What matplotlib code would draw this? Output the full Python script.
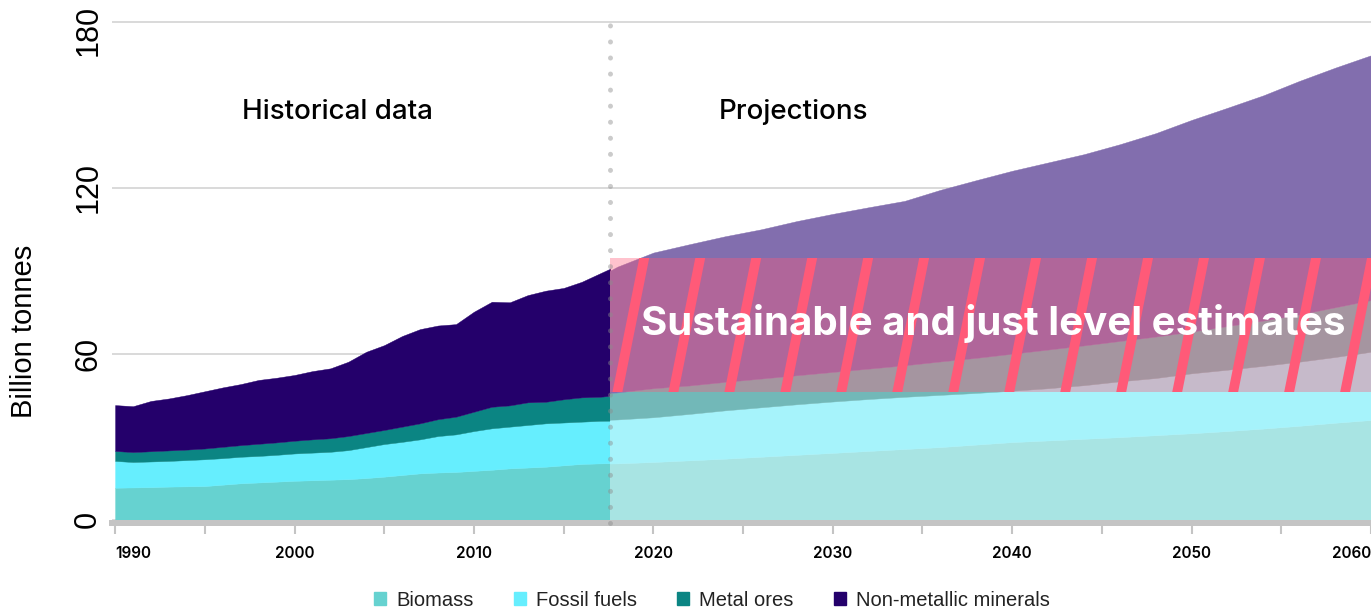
import numpy as np
import matplotlib.pyplot as plt
import matplotlib.transforms as mtransforms
from matplotlib.patches import Rectangle, Patch

# Global material extraction, billion tonnes
hist_years = np.arange(1990, 2019)
hist_biomass = [11.5, 11.6, 11.7, 11.9, 12.0, 12.1, 12.6, 13.1, 13.4, 13.7,
                14.0, 14.2, 14.4, 14.6, 15.0, 15.5, 16.1, 16.7, 17.0, 17.2,
                17.6, 18.0, 18.5, 18.8, 19.1, 19.6, 20.1, 20.3, 20.4]
hist_fossil = [9.7, 9.2, 9.3, 9.3, 9.5, 9.7, 9.6, 9.6, 9.6, 9.7,
               9.9, 10.0, 10.1, 10.5, 11.2, 11.8, 12.0, 12.3, 13.2, 13.6,
               14.4, 15.0, 15.1, 15.4, 15.7, 15.5, 15.3, 15.4, 15.4]
hist_metal = [3.6, 3.6, 3.7, 3.8, 3.8, 3.9, 4.1, 4.2, 4.4, 4.5,
              4.6, 4.8, 4.9, 5.1, 5.1, 5.1, 5.5, 5.8, 6.1, 6.4,
              7.0, 7.8, 7.7, 8.2, 7.8, 8.4, 8.8, 8.7, 9.2]
hist_nonmetal = [16.6, 16.6, 18.2, 18.8, 19.7, 20.7, 21.5, 22.1, 23.1, 23.4,
                 23.8, 24.7, 25.3, 26.9, 29.4, 30.7, 32.8, 34.1, 33.9, 33.5,
                 36.2, 38.0, 37.3, 38.8, 40.2, 40.3, 41.8, 44.6, 47.0]

proj_years = [2017, 2018, 2020, 2022, 2024, 2026, 2028, 2030, 2032, 2034, 2036,
              2038, 2040, 2042, 2044, 2046, 2048, 2050, 2052, 2054, 2056, 2058, 2060]
proj_biomass = [20.2, 20.3, 20.8, 21.4, 22.0, 22.7, 23.4, 24.1, 24.8, 25.5, 26.2,
                27.1, 28.0, 28.6, 29.2, 29.8, 30.5, 31.2, 32.0, 32.9, 33.9, 35.0, 36.0]
proj_fossil = [15.8, 15.9, 16.2, 16.8, 17.5, 17.9, 18.3, 18.6, 18.8, 18.9, 18.9,
               18.7, 18.6, 18.9, 19.4, 20.2, 20.7, 21.7, 22.2, 22.7, 23.2, 23.8, 24.7]
proj_metal = [9.5, 9.8, 10.5, 10.3, 10.3, 10.4, 10.5, 10.7, 11.0, 11.4, 12.1,
              12.7, 13.4, 14.0, 14.4, 14.6, 15.0, 15.1, 15.8, 16.4, 17.1, 18.0, 18.7]
proj_nonmetal = [42.5, 45.5, 49.1, 51.1, 52.7, 54.0, 55.8, 57.2, 58.4, 59.5, 62.1,
                 64.3, 66.2, 67.7, 69.2, 71.2, 73.6, 76.6, 79.0, 81.5, 84.5, 86.7, 88.6]

labels = ['Biomass', 'Fossil fuels', 'Metal ores', 'Non-metallic minerals']
hist_colors = ['#66d2d0', '#66eefe', '#0b8583', '#24006b']
proj_colors = ['#a8e4e3', '#a6f3fb', '#72b8b8', '#826eae']

split_year = 2017.6          # end of historical data
band_low, band_high = 46.2, 94.5   # sustainable and just level range
pink = '#ff5a78'

fig = plt.figure(figsize=(13.71, 6.11), dpi=100)
ax = fig.add_axes([111.5 / 1371, 91.5 / 611, 1 - 111.5 / 1371, 519.5 / 611])
ax.set_xlim(1989.8, 2060)
ax.set_ylim(0, 188)

# historical stack, clipped at the split
hist = ax.stackplot(hist_years, hist_biomass, hist_fossil, hist_metal, hist_nonmetal,
                    colors=hist_colors, zorder=2)
clip_h = Rectangle((1980, -10), split_year - 1980, 300, transform=ax.transData)
for p, c in zip(hist, hist_colors):
    p.set_edgecolor(c)
    p.set_linewidth(0.3)
    p.set_clip_path(clip_h)

# projections, faded
proj = ax.stackplot(proj_years, proj_biomass, proj_fossil, proj_metal, proj_nonmetal,
                    colors=proj_colors, zorder=2)
clip_p = Rectangle((split_year, -10), 100, 300, transform=ax.transData)
for p, c in zip(proj, proj_colors):
    p.set_edgecolor(c)
    p.set_linewidth(0.3)
    p.set_clip_path(clip_p)

# sustainable band with slanted stripes
band = Rectangle((split_year, band_low), 60, band_high - band_low,
                 facecolor=pink, alpha=0.37, lw=0, zorder=4)
ax.add_patch(band)
band_clip = Rectangle((split_year, band_low), 60, band_high - band_low,
                      transform=ax.transData)
h = band_high - band_low
for x0 in np.arange(2018.0, 2061, 3.12):
    ln, = ax.plot([x0 - 0.2 * 1.49, x0 + 1.2 * 1.49],
                  [band_low - 0.2 * h, band_high + 0.2 * h],
                  color=pink, lw=7, solid_capstyle='butt', zorder=5)
    ln.set_clip_path(band_clip)

ax.text(2019.33, 66.75, 'Sustainable and just level estimates', color='white',
        fontsize=29, fontweight='bold', family='Inter', ha='left', va='baseline', zorder=8)

# divider between history and projections
ax.axvline(split_year, ymin=-0.006, ymax=0.98, color='#8c8c8c', alpha=0.45, lw=3.6,
           linestyle=(0, (0.01, 3.2)), dash_capstyle='round', zorder=7, clip_on=False)

ax.text(2002.38, 147.4, 'Historical data', ha='center', va='center', fontsize=20,
        family='Inter', fontweight='medium')
ax.text(2027.8, 147.4, 'Projections', ha='center', va='center', fontsize=20,
        family='Inter', fontweight='medium')

# axes styling
for s in ['top', 'right', 'left']:
    ax.spines[s].set_visible(False)
ax.spines['bottom'].set_color('#c4c4c4')
ax.spines['bottom'].set_linewidth(4.3)
ax.spines['bottom'].set_position(('outward', 2.2))
ax.spines['bottom'].set_zorder(3)

ax.set_xticks(np.arange(1990, 2061, 10))
ax.set_xticks(np.arange(1995, 2060, 10), minor=True)
ax.tick_params(axis='x', which='both', length=8, width=1.5, color='#c4c4c4', pad=9)
for t in ax.get_xticklabels():
    t.set_fontsize(11)
    t.set_family('Inter')
    t.set_fontweight('semibold')
ax.get_xticklabels()[0].set_ha('left')
ax.get_xticklabels()[-1].set_ha('right')

ax.set_yticks([0, 60, 120, 180])
ax.tick_params(axis='y', length=0, pad=6)
for t in ax.get_yticklabels():
    t.set_fontsize(22)
    t.set_family('Liberation Sans')
    t.set_rotation(90)
    t.set_va('center')
ylab = ax.get_yticklabels()[-1]
ylab.set_transform(ylab.get_transform() +
                   mtransforms.ScaledTranslation(0, -8 / 100, fig.dpi_scale_trans))

ax.yaxis.grid(True, color='#d0d0d0', lw=1.1)
ax.set_axisbelow(True)

fig.text(24 / 1371, 1 - 331.5 / 611, 'Billion tonnes', rotation=90, ha='center',
         va='center', fontsize=21, family='Liberation Sans')

handles = [Patch(color=c, label=l) for c, l in zip(hist_colors, labels)]
leg = fig.legend(handles=handles, loc='center', bbox_to_anchor=(712 / 1371, 1 - 600 / 611),
                 ncol=4, frameon=False, handlelength=0.6, handleheight=0.6,
                 handletextpad=0.5, columnspacing=2.0,
                 prop={'family': 'Liberation Sans', 'size': 14.5})
for t in leg.get_texts():
    t.set_color('#222222')

fig.savefig('out.png', dpi=100)
